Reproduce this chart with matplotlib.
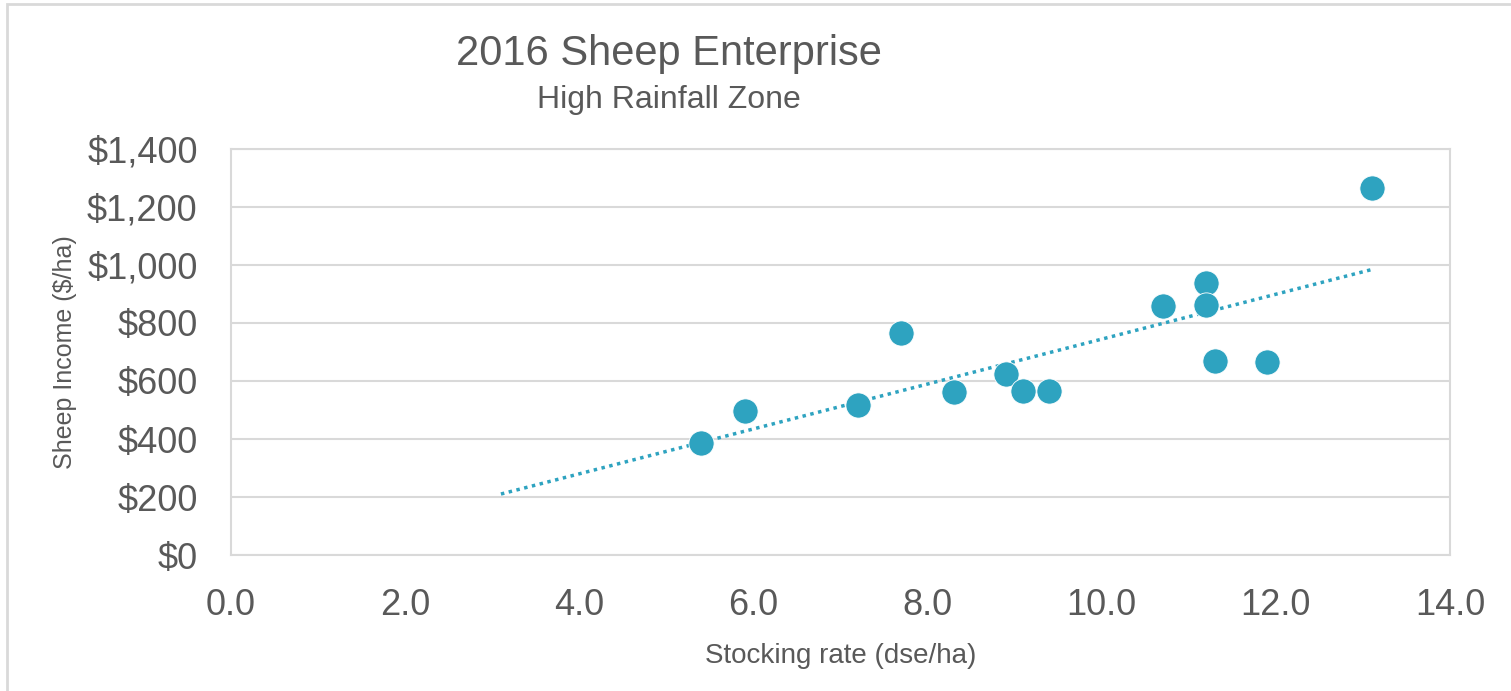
import numpy as np
import matplotlib
matplotlib.use("Agg")
import matplotlib.pyplot as plt
from matplotlib.patches import Rectangle
from matplotlib.ticker import FuncFormatter

# stocking rate (dse/ha) vs sheep income ($/ha)
stocking = [5.4, 5.9, 7.2, 7.7, 8.3, 8.9, 9.1, 9.4, 10.7, 11.2, 11.2, 11.3, 11.9, 13.1]
income = [386, 497, 518, 766, 562, 625, 567, 567, 859, 937, 863, 668, 665, 1267]
trend_backward = 2.3  # excel trendline backward forecast

plt.rcParams['font.family'] = ['Liberation Sans', 'DejaVu Sans']
grey_text = '#595959'
line_grey = '#D9D9D9'
teal = '#2EA3C0'

fig = plt.figure(figsize=(15.11, 6.91), dpi=100)
ax = fig.add_axes([0.1529, 0.1968, 0.9596 - 0.1529, 0.7844 - 0.1968])

# linear trendline
slope, icept = np.polyfit(stocking, income, 1)
tx = np.array([min(stocking) - trend_backward, max(stocking)])
ax.plot(tx, slope * tx + icept, color=teal, lw=2.5, linestyle=(0, (1, 1.3)), zorder=2)

ax.scatter(stocking, income, s=330, color=teal, edgecolor='white', linewidth=0.6, zorder=3)

ax.set_xlim(0, 14)
ax.set_ylim(0, 1400)
ax.set_xticks(np.arange(0, 14.1, 2))
ax.set_yticks(np.arange(0, 1401, 200))
ax.xaxis.set_major_formatter(FuncFormatter(lambda v, p: f"{v:.1f}"))
ax.yaxis.set_major_formatter(FuncFormatter(lambda v, p: f"${v:,.0f}"))
ax.tick_params(axis='both', length=0, labelsize=26, labelcolor=grey_text)
ax.tick_params(axis='y', pad=24)
ax.tick_params(axis='x', pad=24)
ax.grid(axis='y', color=line_grey, lw=1.5)
ax.set_axisbelow(True)
for s in ax.spines.values():
    s.set_color(line_grey)
    s.set_linewidth(1.5)

ax.set_xlabel("Stocking rate (dse/ha)", fontsize=20, color=grey_text, labelpad=14)
ax.set_ylabel("Sheep Income ($/ha)", fontsize=18, color=grey_text, labelpad=7)

fig.text(0.4428, 0.922, "2016 Sheep Enterprise", fontsize=30, color=grey_text,
         ha='center', va='center')
fig.text(0.4428, 0.856, "High Rainfall Zone", fontsize=23, color=grey_text,
         ha='center', va='center')

# outer chart border
fig.patches.append(Rectangle((7 / 1511, -0.1), 1.2, 1.1 - 4 / 691, transform=fig.transFigure,
                             fill=False, edgecolor=line_grey, lw=2))

fig.savefig("out.png", dpi=100)
